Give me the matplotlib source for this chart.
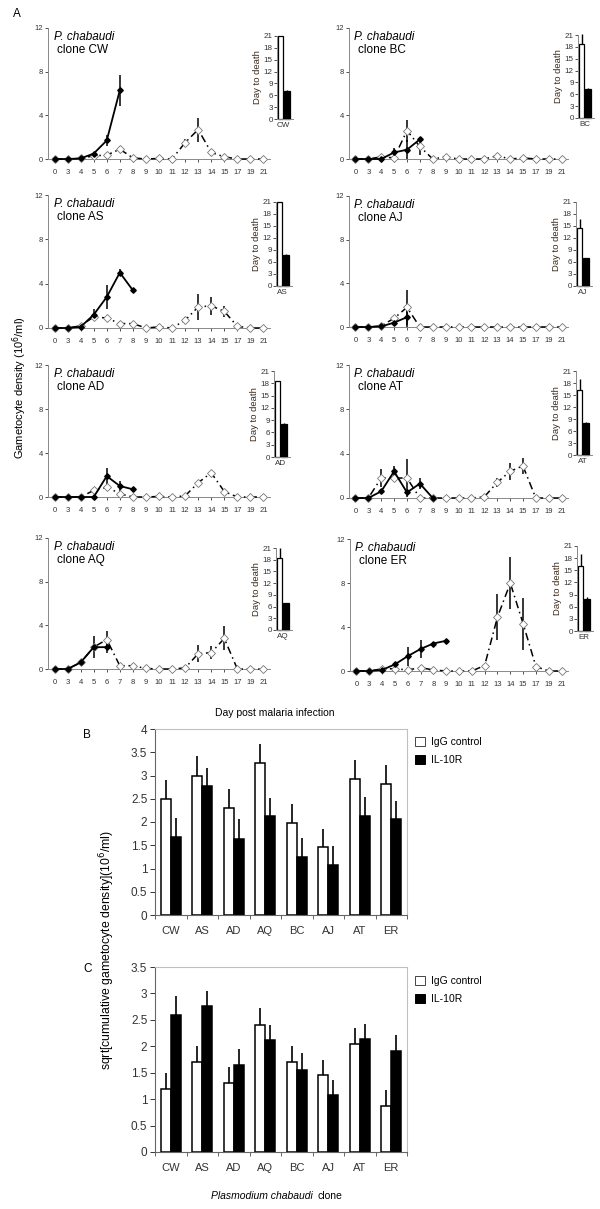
import matplotlib
matplotlib.use("Agg")
import matplotlib.pyplot as plt
from matplotlib.patches import Patch
import numpy as np

plt.rcParams['font.family'] = ['Liberation Sans', 'DejaVu Sans']

## Days sampled (categorical axis)
days = ["0", "3", "4", "5", "6", "7", "8", "9", "10", "11", "12", "13", "14", "15", "17", "19", "21"]

## Gametocyte density (10^6/ml), IgG control (open) and IL-10R (filled)
cw_igg = [0, 0, 0.05, 0.3, 0.35, 0.9, 0.1, 0, 0.05, 0, 1.5, 2.7, 0.6, 0.2, 0, 0, 0]
cw_igg_err = [0, 0, 0, 0, 0, 0.3, 0, 0, 0, 0, 0.3, 1.1, 0.3, 0, 0, 0, 0]
cw_il = [0, 0, 0.05, 0.5, 1.7, 6.3]
cw_il_err = [0, 0, 0, 0, 0.5, 1.4]

bc_igg = [0, 0, 0.2, 0.1, 2.6, 1.15, 0, 0.2, 0, 0, 0, 0.3, 0, 0.1, 0, 0, 0]
bc_igg_err = [0, 0, 0, 0, 1.0, 0.75, 0, 0, 0, 0, 0, 0, 0, 0, 0, 0, 0]
bc_il = [0, 0, 0, 0.6, 0.85, 1.8]
bc_il_err = [0, 0, 0, 0.4, 0.9, 0.1]

as_igg = [0, 0, 0.2, 1.0, 0.9, 0.4, 0.4, 0, 0.1, 0, 0.7, 1.9, 2.0, 1.5, 0.15, 0, 0]
as_igg_err = [0, 0, 0, 0, 0, 0, 0, 0, 0, 0, 0.3, 1.2, 0.8, 0.5, 0, 0, 0]
as_il = [0, 0, 0.1, 1.2, 2.8, 5.0, 3.4]
as_il_err = [0, 0, 0, 0.5, 1.05, 0.3, 0]

aj_igg = [0, 0, 0.1, 0.8, 1.8, 0, 0, 0, 0, 0, 0, 0, 0, 0, 0, 0, 0]
aj_igg_err = [0, 0, 0, 0, 1.6, 0, 0, 0, 0, 0, 0, 0, 0, 0, 0, 0, 0]
aj_il = [0, 0, 0.05, 0.4, 0.9]
aj_il_err = [0, 0, 0, 0, 0.9]

ad_igg = [0, 0, 0, 0.6, 0.9, 0.3, 0, 0, 0.05, 0, 0.1, 1.3, 2.2, 0.5, 0, 0, 0]
ad_igg_err = [0] * 17
ad_il = [0, 0, 0, 0, 1.9, 1.0, 0.7]
ad_il_err = [0, 0, 0, 0, 0.75, 0.45, 0]

at_igg = [0, 0, 1.8, 1.8, 1.8, 0, 0, 0, 0, 0, 0.1, 1.4, 2.4, 2.9, 0, 0, 0]
at_igg_err = [0, 0, 0.8, 0.3, 1.7, 0, 0, 0, 0, 0, 0, 0.4, 0.8, 0.7, 0, 0, 0]
at_il = [0, 0, 0.6, 2.4, 0.5, 1.3, 0]
at_il_err = [0, 0, 0, 0.5, 0, 0.5, 0]

aq_igg = [0, 0, 0.6, 2.0, 2.7, 0.3, 0.3, 0.05, 0, 0, 0.1, 1.4, 1.5, 2.8, 0, 0, 0]
aq_igg_err = [0, 0, 0, 0, 0.8, 0, 0, 0, 0, 0, 0, 0.8, 0.6, 1.1, 0, 0, 0]
aq_il = [0, 0, 0.6, 2.0, 2.0]
aq_il_err = [0, 0, 0.25, 1.0, 0.5]

er_igg = [0, 0, 0.2, 0.2, 0.1, 0.3, 0.1, 0, 0, 0, 0.5, 4.9, 8.0, 4.3, 0.4, 0, 0]
er_igg_err = [0, 0, 0, 0, 0, 0, 0, 0, 0, 0, 0, 2.1, 2.4, 2.35, 0, 0, 0]
er_il = [0, 0, 0.1, 0.6, 1.35, 2.0, 2.5, 2.75]
er_il_err = [0, 0, 0, 0, 0.85, 0.85, 0, 0]

## Clones for panels B, C and the day-to-death insets
clones = ["CW", "AS", "AD", "AQ", "BC", "AJ", "AT", "ER"]
death_igg = [21, 21, 18.5, 18.5, 18.8, 14.5, 16.2, 16]
death_igg_err = [0, 0, 0, 2.5, 2.5, 2.2, 2.8, 3.0]
death_il = [7.2, 7.8, 8.1, 7.0, 7.3, 7.0, 8.0, 8.0]
death_il_err = [0.2, 0.3, 0.3, 0, 0.2, 0, 0.2, 0.3]

peak_igg = [2.5, 3.0, 2.3, 3.27, 1.97, 1.46, 2.92, 2.82]
peak_igg_err = [0.4, 0.42, 0.42, 0.41, 0.41, 0.4, 0.41, 0.4]
peak_il = [1.68, 2.77, 1.64, 2.12, 1.25, 1.07, 2.13, 2.06]
peak_il_err = [0.4, 0.4, 0.42, 0.4, 0.41, 0.41, 0.4, 0.4]

cum_igg = [1.2, 1.7, 1.3, 2.4, 1.7, 1.45, 2.04, 0.87]
cum_igg_err = [0.3, 0.3, 0.3, 0.32, 0.3, 0.3, 0.3, 0.3]
cum_il = [2.59, 2.76, 1.65, 2.12, 1.56, 1.07, 2.13, 1.91]
cum_il_err = [0.37, 0.29, 0.29, 0.28, 0.32, 0.3, 0.29, 0.3]

W, H = 600, 1209
fig = plt.figure(figsize=(6, 12.09), dpi=100)


def box(x0, y0, x1, y1):
    return fig.add_axes([x0 / W, 1 - y1 / H, (x1 - x0) / W, (y1 - y0) / H])


def line_panel(ax, igg, igg_err, il, il_err, name):
    x = np.arange(len(days))
    ax.errorbar(x[:len(igg)], igg, yerr=igg_err, fmt='none', ecolor='black',
                elinewidth=1.1, capsize=0, zorder=2)
    ax.plot(x[:len(igg)], igg, color='black', lw=1.1, dashes=(5, 2.5, 1, 2.5),
            marker='D', ms=3.8, mfc='white', mec='#777777', mew=0.6,
            clip_on=False, zorder=3)
    ax.errorbar(x[:len(il)], il, yerr=il_err, fmt='none', ecolor='black',
                elinewidth=1.1, capsize=0, zorder=2)
    ax.plot(x[:len(il)], il, color='black', lw=1.3, marker='D', ms=2.8,
            mfc='black', mec='black', clip_on=False, zorder=4)
    ax.set_xlim(-0.5, 16.5)
    ax.set_ylim(0, 12)
    ax.set_yticks([0, 4, 8, 12])
    ax.set_xticks(x)
    ax.set_xticklabels(days)
    ax.tick_params(axis='both', labelsize=5.5, colors='#333333', length=2, pad=1.5, width=0.6)
    ax.tick_params(axis='x', pad=5)
    for s in ['top', 'right']:
        ax.spines[s].set_visible(False)
    for s in ['left', 'bottom']:
        ax.spines[s].set_color('#888888')
        ax.spines[s].set_linewidth(0.7)
    ax.text(0.025, 0.935, 'P. chabaudi', style='italic', fontsize=8.5,
            transform=ax.transAxes, va='center')
    ax.text(0.04, 0.835, 'clone ' + name, fontsize=8.5,
            transform=ax.transAxes, va='center')


def death_inset(ax, v_igg, e_igg, v_il, e_il, name):
    ax.bar([0, 1], [v_igg, v_il], width=0.9, color=['white', 'black'],
           edgecolor='black', lw=0.9, clip_on=False)
    ax.errorbar([0, 1], [v_igg, v_il], yerr=[[0, 0], [e_igg, e_il]], fmt='none',
                ecolor='black', elinewidth=1.0, capsize=0, clip_on=False)
    ax.set_xlim(-0.55, 1.95)
    ax.set_ylim(0, 21)
    ax.set_yticks(range(0, 22, 3))
    ax.set_xticks([0.5])
    ax.set_xticklabels([name])
    ax.tick_params(axis='y', labelsize=5.8, colors='#333333', length=2, pad=1, width=0.6)
    ax.tick_params(axis='x', labelsize=5.8, colors='#333333', length=0, pad=2)
    ax.set_ylabel('Day to death', fontsize=6.8, color='#3a2a1a', labelpad=1.5)
    for s in ['top', 'right']:
        ax.spines[s].set_visible(False)
    for s in ['left', 'bottom']:
        ax.spines[s].set_color('#888888')
        ax.spines[s].set_linewidth(0.7)


## Panel A
panels = [
    ("CW", cw_igg, cw_igg_err, cw_il, cw_il_err, (48, 28, 270, 159), (277, 36, 293, 119)),
    ("AS", as_igg, as_igg_err, as_il, as_il_err, (48, 195, 270, 328), (276, 202, 292, 286)),
    ("AD", ad_igg, ad_igg_err, ad_il, ad_il_err, (48, 365, 270, 497), (274, 371, 290, 457)),
    ("AQ", aq_igg, aq_igg_err, aq_il, aq_il_err, (48, 538, 270, 669), (276, 548, 292, 630)),
    ("BC", bc_igg, bc_igg_err, bc_il, bc_il_err, (349, 28, 568, 159), (578, 35, 594, 118)),
    ("AJ", aj_igg, aj_igg_err, aj_il, aj_il_err, (349, 196, 568, 327), (576, 202, 592, 286)),
    ("AT", at_igg, at_igg_err, at_il, at_il_err, (349, 365, 568, 498), (576, 371, 592, 455)),
    ("ER", er_igg, er_igg_err, er_il, er_il_err, (350, 539, 568, 671), (577, 546, 593, 631)),
]
for name, igg, igg_err, il, il_err, rect, irect in panels:
    line_panel(box(*rect), igg, igg_err, il, il_err, name)
    i = clones.index(name)
    death_inset(box(*irect), death_igg[i], death_igg_err[i], death_il[i], death_il_err[i], name)

fig.text(13 / W, 1 - 14 / H, 'A', fontsize=8.5, va='center')
fig.text(20 / W, 1 - 388 / H, 'Gametocyte density (10$^{6}$/ml)', fontsize=8,
         rotation=90, va='center', ha='center')
fig.text(275 / W, 1 - 713 / H, 'Day post malaria infection', fontsize=7.5,
         va='center', ha='center')


def bar_panel(ax, igg, igg_err, il, il_err, top):
    x = np.arange(len(clones))
    zero = np.zeros(len(clones))
    ax.bar(x - 0.16, igg, 0.32, color='white', edgecolor='black', lw=1.1)
    ax.bar(x + 0.16, il, 0.32, color='black', edgecolor='black', lw=1.1)
    ax.errorbar(x - 0.16, igg, yerr=[zero, igg_err], fmt='none', ecolor='black',
                elinewidth=1.2, capsize=0)
    ax.errorbar(x + 0.16, il, yerr=[zero, il_err], fmt='none', ecolor='black',
                elinewidth=1.2, capsize=0)
    ax.set_xlim(-0.5, 7.5)
    ax.set_ylim(0, top)
    yt = np.arange(0, top + 0.01, 0.5)
    ax.set_yticks(yt)
    ax.set_yticklabels([f'{v:g}' for v in yt])
    ax.set_xticks(x)
    ax.set_xticklabels(clones)
    ax.set_xticks(np.arange(-0.5, 8, 1), minor=True)
    ax.tick_params(axis='y', labelsize=8.5, colors='#333333', length=3.5, pad=2, width=0.7)
    ax.tick_params(axis='x', which='major', labelsize=8, colors='#333333', length=0, pad=8)
    ax.tick_params(axis='x', which='minor', length=3, width=0.7, color='#666666')
    for s in ['top', 'right']:
        ax.spines[s].set_color('#c0c0c0')
        ax.spines[s].set_linewidth(0.8)
    for s in ['left', 'bottom']:
        ax.spines[s].set_color('#666666')
        ax.spines[s].set_linewidth(0.8)


leg_handles = [Patch(facecolor='white', edgecolor='#444444', lw=0.7),
               Patch(facecolor='black', edgecolor='black', lw=0.7)]
leg_labels = ['IgG control', 'IL-10R']

## Panel B
axb = box(155, 729, 407, 915)
bar_panel(axb, peak_igg, peak_igg_err, peak_il, peak_il_err, 4)
fig.text(83 / W, 1 - 735 / H, 'B', fontsize=8.5, va='center')
fig.legend(leg_handles, leg_labels, loc='upper left', bbox_to_anchor=(415 / W, 1 - 737 / H),
           frameon=False, fontsize=7.5, handlelength=1.0, handleheight=1.0,
           handletextpad=0.5, labelspacing=0.75, borderpad=0, borderaxespad=0)

## Panel C
axc = box(155, 967, 407, 1152)
bar_panel(axc, cum_igg, cum_igg_err, cum_il, cum_il_err, 3.5)
fig.text(83 / W, 1 - 969 / H, 'C', fontsize=8.5, va='center')
fig.legend(leg_handles, leg_labels, loc='upper left', bbox_to_anchor=(415 / W, 1 - 976 / H),
           frameon=False, fontsize=7.5, handlelength=1.0, handleheight=1.0,
           handletextpad=0.5, labelspacing=0.75, borderpad=0, borderaxespad=0)

fig.text(107 / W, 1 - 950 / H, 'sqrt[cumulative gametocyte density](10$^{6}$/ml)',
         fontsize=8.8, rotation=90, va='center', ha='center')
fig.text(313 / W, 1 - 1196 / H, 'Plasmodium chabaudi', style='italic', fontsize=7.5,
         va='center', ha='right')
fig.text(318 / W, 1 - 1196 / H, 'clone', fontsize=7.5, va='center', ha='left')

fig.savefig('out.png', dpi=100)
